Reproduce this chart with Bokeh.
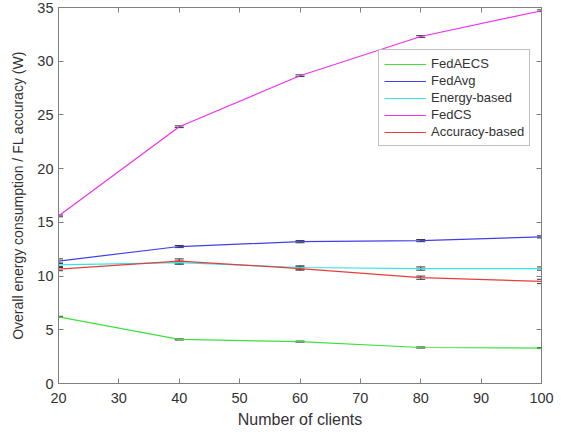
from bokeh.plotting import figure
from bokeh.models import ColumnDataSource, Whisker, LinearAxis, Legend, LegendItem, Range1d, FixedTicker
from bokeh.embed import file_html
from bokeh.resources import INLINE

clients = [20, 40, 60, 80, 100]
fedaecs = [6.2, 4.1, 3.9, 3.35, 3.3]
fedavg = [11.4, 12.75, 13.2, 13.3, 13.65]
energy_based = [11.05, 11.25, 10.8, 10.7, 10.7]
fedcs = [15.6, 23.9, 28.65, 32.3, 34.7]
accuracy_based = [10.65, 11.4, 10.7, 9.85, 9.5]

err_fedaecs = [0.05, 0.05, 0.05, 0.05, 0.05]
err_fedavg = [0.2, 0.1, 0.1, 0.1, 0.1]
err_energy = [0.15, 0.15, 0.15, 0.15, 0.15]
err_fedcs = [0.08, 0.08, 0.08, 0.08, 0.08]
err_accuracy = [0.15, 0.2, 0.15, 0.15, 0.2]

x_ticks = [20, 30, 40, 50, 60, 70, 80, 90, 100]
y_ticks = [0, 5, 10, 15, 20, 25, 30, 35]

series = [
    ("FedAECS", fedaecs, err_fedaecs, "#3ee03e"),
    ("FedAvg", fedavg, err_fedavg, "#4040ea"),
    ("Energy-based", energy_based, err_energy, "#30e6e6"),
    ("FedCS", fedcs, err_fedcs, "#f030f0"),
    ("Accuracy-based", accuracy_based, err_accuracy, "#ea3c3c"),
]

FONT = "Liberation Sans"
AX = "#808080"
TXT = "#333333"

p = figure(frame_width=483, frame_height=376, min_border_left=58, min_border_right=20,
           min_border_top=7, min_border_bottom=54,
           x_range=Range1d(20, 100), y_range=Range1d(0, 35),
           output_backend="svg", toolbar_location=None)
p.outline_line_color = AX
p.xgrid.visible = False
p.ygrid.visible = False

items = []
for name, vals, errs, color in series:
    src = ColumnDataSource(dict(x=clients, y=vals,
                                lo=[v - e for v, e in zip(vals, errs)],
                                hi=[v + e for v, e in zip(vals, errs)]))
    r = p.line("x", "y", source=src, line_color=color, line_width=1.2)
    w = Whisker(base="x", lower="lo", upper="hi", source=src, dimension="height",
                line_color="#333333", line_width=1)
    w.upper_head.size = 9
    w.lower_head.size = 9
    w.upper_head.line_color = "#333333"
    w.lower_head.line_color = "#333333"
    p.add_layout(w)
    items.append(LegendItem(label=name, renderers=[r]))

xt = FixedTicker(ticks=x_ticks)
yt = FixedTicker(ticks=y_ticks)
for ax in (p.xaxis[0], p.yaxis[0]):
    ax.axis_line_color = AX
    ax.major_tick_line_color = AX
    ax.major_tick_in = 5
    ax.major_tick_out = 0
    ax.minor_tick_line_color = None
    ax.major_label_text_font = FONT
    ax.major_label_text_font_size = "14.5px"
    ax.major_label_text_color = TXT
    ax.axis_label_text_font = FONT
    ax.axis_label_text_font_style = "normal"
    ax.axis_label_text_color = TXT
p.xaxis[0].ticker = xt
p.yaxis[0].ticker = yt
p.xaxis[0].axis_label = "Number of clients"
p.yaxis[0].axis_label = "Overall energy consumption / FL accuracy (W)"
p.xaxis[0].axis_label_text_font_size = "16px"
p.yaxis[0].axis_label_text_font_size = "14px"
p.xaxis[0].major_label_standoff = 9
p.yaxis[0].major_label_standoff = 5
p.xaxis[0].axis_label_standoff = 5
p.yaxis[0].axis_label_standoff = 8

top = LinearAxis(ticker=xt, major_label_overrides={t: "" for t in x_ticks})
right = LinearAxis(ticker=yt, major_label_overrides={t: "" for t in y_ticks})
for ax in (top, right):
    ax.axis_line_color = AX
    ax.major_tick_line_color = AX
    ax.major_tick_in = 5
    ax.major_tick_out = 0
    ax.minor_tick_line_color = None
    ax.major_label_standoff = 0
    ax.major_label_text_font_size = "1px"
p.add_layout(top, "above")
p.add_layout(right, "right")

legend = Legend(items=items, location=(320, 237), label_text_font=FONT,
                label_text_font_size="13px", label_text_color=TXT,
                glyph_width=42, glyph_height=16, label_height=17, spacing=0,
                padding=5, margin=0, border_line_color=AX, label_standoff=5,
                background_fill_color="white")
p.add_layout(legend, "center")

open("out.html", "w").write(file_html(p, INLINE))
